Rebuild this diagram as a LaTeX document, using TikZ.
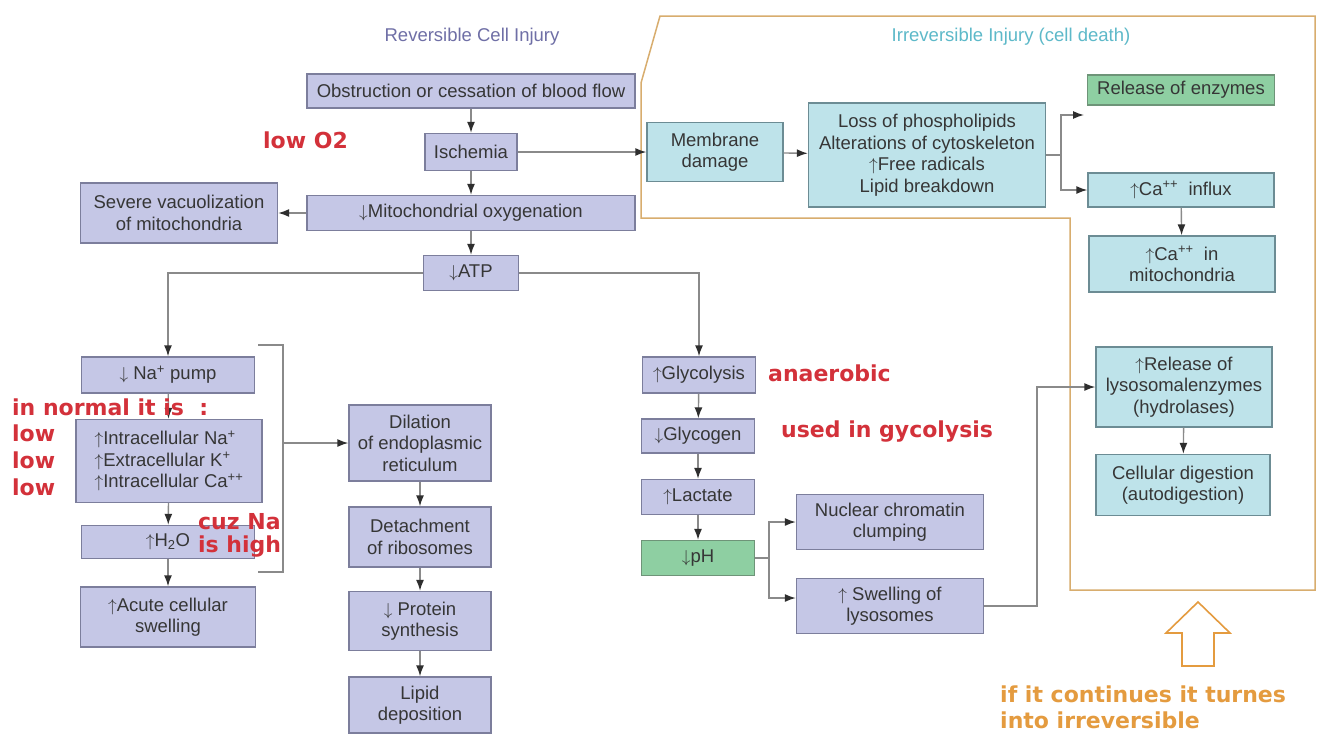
\documentclass[tikz,border=0pt]{standalone}
\usepackage{fontspec}
\setmainfont{Liberation Sans}
\newfontfamily\notefont{DejaVu Sans}
\usetikzlibrary{arrows.meta,calc}
\newcommand{\myup}{$\uparrow$}
\newcommand{\mydn}{$\downarrow$}
\definecolor{lavfill}{HTML}{C5C7E6}
\definecolor{lavdraw}{HTML}{7C7E9C}
\definecolor{cyfill}{HTML}{BEE3EA}
\definecolor{cydraw}{HTML}{6C8C94}
\definecolor{grfill}{HTML}{8ECFA2}
\definecolor{grdraw}{HTML}{6E9478}
\definecolor{txt}{HTML}{363636}
\definecolor{lncol}{HTML}{8A8A8A}
\definecolor{headcol}{HTML}{2E2E2E}
\definecolor{framec}{HTML}{D8AD6E}
\definecolor{orangec}{HTML}{E49B3F}
\definecolor{redc}{HTML}{D3313A}
\definecolor{hdrA}{HTML}{6F6FA6}
\definecolor{hdrB}{HTML}{5DB9C9}
\begin{document}
\begin{tikzpicture}[x=1pt,y=-1pt,
  lav/.style={draw=lavdraw, fill=lavfill, line width=1.4pt, text=txt, align=center,
    inner sep=2pt, font=\fontsize{18.5}{21.5}\selectfont},
  cy/.style={lav, draw=cydraw, fill=cyfill},
  gr/.style={lav, draw=grdraw, fill=grfill},
  line/.style={draw=lncol, line width=1.4pt},
  arr/.style={line, -{Latex[length=11pt,width=8pt,color=headcol]}},
  note/.style={text=redc, font=\notefont\bfseries\fontsize{22}{26}\selectfont, anchor=west, inner sep=0pt},
  hdr/.style={font=\fontsize{18.5}{21}\selectfont, inner sep=0pt},
  frame/.style={draw=framec, line width=1.5pt},
  hollow/.style={draw=orangec, line width=1.6pt, line join=miter}
]
\useasboundingbox[fill=white] (0,0) rectangle (1319,734);

% irreversible region frame
\draw[frame] (660,16) -- (1315,16) -- (1315,590) -- (1070,590) -- (1070,218) -- (641,218) -- (641,83) -- cycle;

% headings
\node[hdr, text=hdrA] (hrev) at (472,37) {Reversible Cell Injury};
\node[hdr, text=hdrB] (hirr) at (1011,37) {Irreversible Injury (cell death)};

% main column
\node[lav, minimum width=328, minimum height=34] (obst) at (471,91) {Obstruction or cessation of blood flow};
\node[lav, minimum width=92, minimum height=37] (isch) at (471,152) {Ischemia};
\node[lav, minimum width=328, minimum height=35] (mito) at (471,213) {\mydn Mitochondrial oxygenation};
\node[lav, minimum width=197, minimum height=60] (vacu) at (179,213) {Severe vacuolization\\of mitochondria};
\node[lav, minimum width=95, minimum height=35] (atp) at (471,273) {\mydn ATP};

% left column
\node[lav, minimum width=173, minimum height=36] (napump) at (168,375) {\mydn\ Na\textsuperscript{+} pump};
\node[lav, minimum width=186, minimum height=83, align=left] (intra) at (169,461)
  {\myup Intracellular Na\textsuperscript{+}\\\myup Extracellular K\textsuperscript{+}\\\myup Intracellular Ca\textsuperscript{++}};
\node[lav, minimum width=173, minimum height=33] (h2o) at (168,542) {\myup H\textsubscript{2}O};
\node[lav, minimum width=175, minimum height=60] (acute) at (168,617) {\myup Acute cellular\\swelling};

% ER column
\node[lav, minimum width=142, minimum height=76] (dil) at (420,443) {Dilation\\of endoplasmic\\reticulum};
\node[lav, minimum width=142, minimum height=60] (detach) at (420,537) {Detachment\\of ribosomes};
\node[lav, minimum width=142, minimum height=59] (prot) at (420,621) {\mydn\ Protein\\synthesis};
\node[lav, minimum width=142, minimum height=56] (lipid) at (420,705) {Lipid\\deposition};

% glycolysis column
\node[lav, minimum width=113, minimum height=36] (glyco) at (699,375) {\myup Glycolysis};
\node[lav, minimum width=113, minimum height=34] (glycogen) at (698,436) {\mydn Glycogen};
\node[lav, minimum width=113, minimum height=35] (lact) at (698,497) {\myup Lactate};
\node[gr, minimum width=113, minimum height=35] (ph) at (698,558) {\mydn pH};
\node[lav, minimum width=187, minimum height=55] (nuc) at (890,522) {Nuclear chromatin\\clumping};
\node[lav, minimum width=187, minimum height=55] (swell) at (890,606) {\myup\ Swelling of\\lysosomes};

% irreversible boxes
\node[cy, minimum width=136, minimum height=59] (memb) at (715,152) {Membrane\\damage};
\node[cy, minimum width=237, minimum height=104] (loss) at (927,155)
  {Loss of phospholipids\\Alterations of cytoskeleton\\\myup Free radicals\\Lipid breakdown};
\node[gr, minimum width=187, minimum height=30] (rel) at (1181,90) {Release of enzymes};
\node[cy, minimum width=186, minimum height=34] (cain) at (1181,190) {\myup Ca\textsuperscript{++}\ \ influx};
\node[cy, minimum width=186, minimum height=56] (camito) at (1182,264) {\myup Ca\textsuperscript{++}\ \ in\\mitochondria};
\node[cy, minimum width=176, minimum height=80] (lyso) at (1184,387) {\myup Release of\\lysosomalenzymes\\(hydrolases)};
\node[cy, minimum width=174, minimum height=61] (dig) at (1183,485) {Cellular digestion\\(autodigestion)};

% helper coordinates
\coordinate (br1) at (258,345);
\coordinate (br2) at (283,345);
\coordinate (br3) at (283,572);
\coordinate (br4) at (258,572);
\coordinate (brm) at (283,443);
\coordinate (phb) at (769,558);
\coordinate (sw) at (1037,500);
\coordinate (lb) at (1061,155);
\coordinate (relarrow) at (1084,115);

% connectors
\draw[arr] (obst) -- (isch);
\draw[arr] (isch) -- (mito);
\draw[arr] (isch.east) -- (memb.west);
\draw[arr] (mito.west) -- (vacu.east);
\draw[arr] (mito) -- (atp);
\draw[arr] (atp.west) -| (napump.north);
\draw[arr] (atp.east) -| (glyco.north);
\draw[arr] (napump) -- (intra);
\draw[arr] (intra) -- (h2o);
\draw[arr] (h2o) -- (acute);
\draw[line] (br1) -- (br2) -- (br3) -- (br4);
\draw[arr] (brm) -- (dil.west);
\draw[arr] (dil) -- (detach);
\draw[arr] (detach) -- (prot);
\draw[arr] (prot) -- (lipid);
\draw[arr] (glyco) -- (glycogen);
\draw[arr] (glycogen) -- (lact);
\draw[arr] (lact) -- (ph);
\draw[line] (ph.east) -- (phb);
\draw[arr] (phb) |- (nuc.west);
\draw[arr] (phb) |- ([yshift=8pt]swell.west);
\draw[arr] (swell.east) -- (swell.east -| sw) -- (sw |- lyso.west) -- (lyso.west);
\draw[arr] (memb) -- (loss);
\draw[line] (loss.east) -- (lb);
\draw[arr] (lb) |- (relarrow);
\draw[arr] (lb) |- (cain.west);
\draw[arr] (cain) -- (camito);
\draw[arr] (lyso) -- (dig);

% hollow up arrow
\draw[hollow] (1198,602) -- (1230,633) -- (1214,633) -- (1214,666) -- (1182,666) -- (1182,633) -- (1166,633) -- cycle;

% handwritten-style notes
\node[note] (n1) at (263,140) {low O2};
\node[note] (n2) at (12,407) {in normal it is\ \ :};
\node[note] (n3) at (12,433) {low};
\node[note] (n4) at (12,460) {low};
\node[note] (n5) at (12,487) {low};
\node[note] (n6) at (198,522) {cuz Na};
\node[note] (n7) at (198,547) {is high};
\node[note] (n8) at (768,373) {anaerobic};
\node[note] (n9) at (781,432) {used in gycolysis};
\node[note, text=orangec] (n10) at (1000,694) {if it continues it turnes};
\node[note, text=orangec] (n11) at (1000,720) {into irreversible};
\end{tikzpicture}
\end{document}
